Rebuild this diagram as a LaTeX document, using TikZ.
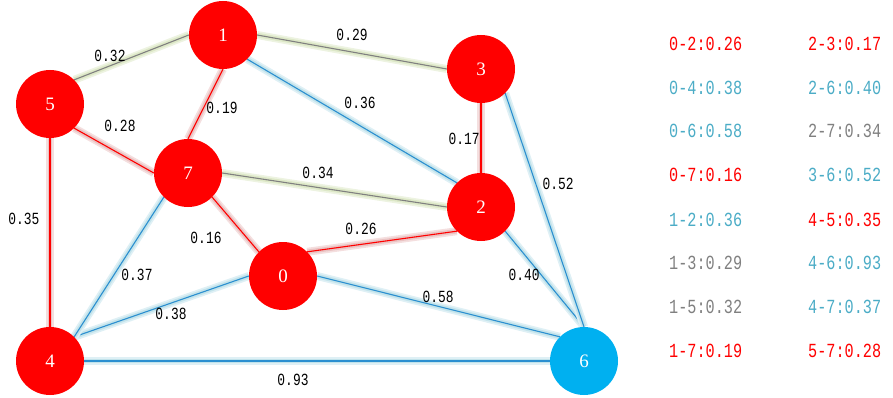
\documentclass[tikz,border=0pt]{standalone}
\usepackage{fontspec}
\setmainfont{Liberation Serif}
\newfontfamily\wfont[FakeStretch=0.76]{Liberation Mono}
\usetikzlibrary{backgrounds}

\definecolor{vred}{HTML}{FF0000}
\definecolor{vblue}{HTML}{00B0F0}
\definecolor{eblue}{HTML}{2B8FD0}
\definecolor{gblue}{HTML}{B7DEE8}
\definecolor{gred}{HTML}{E6B9B8}
\definecolor{ggreen}{HTML}{D7E4BD}
\definecolor{egray}{HTML}{808080}
\definecolor{lblue}{HTML}{4BACC6}

\tikzset{
  vtx/.style={circle, fill=vred, minimum size=68pt, inner sep=0pt, text=white,
    font=\fontsize{19}{19}\selectfont},
  redge/.style={draw=vred, line width=1.1pt,
    preaction={draw=gred!45, line width=8pt}, preaction={draw=gred!85, line width=4.5pt}},
  bedge/.style={draw=eblue, line width=1.1pt,
    preaction={draw=gblue!45, line width=8pt}, preaction={draw=gblue!85, line width=4.5pt}},
  gedge/.style={draw=egray, line width=1.1pt,
    preaction={draw=ggreen!45, line width=8pt}, preaction={draw=ggreen!85, line width=4.5pt}},
  wlbl/.style={font=\fontsize{17}{17}\selectfont\wfont, inner sep=1pt},
  leg/.style={anchor=west, font=\fontsize{20}{20}\selectfont\wfont, inner sep=0pt}
}

\begin{document}
\begin{tikzpicture}[x=1pt, y=-1pt]
    \useasboundingbox (0,0) rectangle (893,398);

    % Vertices
    \node[vtx] (v1) at (223,35) {1};
    \node[vtx] (v3) at (481,69) {3};
    \node[vtx] (v5) at (50,104) {5};
    \node[vtx] (v7) at (188,173) {7};
    \node[vtx] (v2) at (481,207) {2};
    \node[vtx] (v0) at (283,276) {0};
    \node[vtx] (v4) at (50,361) {4};
    \node[vtx, fill=vblue] (v6) at (584,361) {6};

    % Edges
    \begin{scope}[on background layer]
        \draw[redge] (v0.north east) -- (v2.south west);
        \draw[redge] (v0.north west) -- (v7.south east);
        \draw[redge] (v1.south) -- (v7.north);
        \draw[redge] (v2.north) -- (v3.south);
        \draw[redge, line width=1.6pt] (v4.north) -- (v5.south);
        \draw[redge] (v5.south east) -- (v7.west);
        \draw[bedge] (v0.west) -- (v4.north east);
        \draw[bedge] (v0.east) -- (v6.north west);
        \draw[bedge] (v1.south east) -- (v2.north west);
        \draw[bedge] (v2.south east) -- (v6.north);
        \draw[bedge] (v3.south east) -- (v6.north);
        \draw[bedge] (v4.east) -- (v6.west);
        \draw[bedge] (v4.north east) -- (v7.south west);
        \draw[gedge] (v1.east) -- (v3.west);
        \draw[gedge] (v1.west) -- (v5.north east);
        \draw[gedge] (v2.west) -- (v7.east);
    \end{scope}

    % Weights
    \node[wlbl] (w15) at (110,56) {0.32};
    \node[wlbl] (w13) at (352,35) {0.29};
    \node[wlbl] (w17) at (222,108) {0.19};
    \node[wlbl] (w57) at (120,126) {0.28};
    \node[wlbl] (w12) at (360,103) {0.36};
    \node[wlbl] (w23) at (464,139) {0.17};
    \node[wlbl] (w27) at (318,173) {0.34};
    \node[wlbl] (w45) at (24,219) {0.35};
    \node[wlbl] (w07) at (206,238) {0.16};
    \node[wlbl] (w02) at (361,229) {0.26};
    \node[wlbl] (w36) at (558,184) {0.52};
    \node[wlbl] (w47) at (137,275) {0.37};
    \node[wlbl] (w04) at (171,314) {0.38};
    \node[wlbl] (w06) at (438,297) {0.58};
    \node[wlbl] (w26) at (524,275) {0.40};
    \node[wlbl] (w46) at (293,380) {0.93};

    % Edge list
    \node[leg, text=vred] (l02) at (669,44) {0-2:0.26};
    \node[leg, text=lblue] (l04) at (669,88) {0-4:0.38};
    \node[leg, text=lblue] (l06) at (669,131) {0-6:0.58};
    \node[leg, text=vred] (l07) at (669,175) {0-7:0.16};
    \node[leg, text=lblue] (l12) at (669,220) {1-2:0.36};
    \node[leg, text=egray] (l13) at (669,263) {1-3:0.29};
    \node[leg, text=egray] (l15) at (669,307) {1-5:0.32};
    \node[leg, text=vred] (l17) at (669,351) {1-7:0.19};
    \node[leg, text=vred] (l23) at (808,44) {2-3:0.17};
    \node[leg, text=lblue] (l26) at (808,88) {2-6:0.40};
    \node[leg, text=egray] (l27) at (808,131) {2-7:0.34};
    \node[leg, text=lblue] (l36) at (808,175) {3-6:0.52};
    \node[leg, text=vred] (l45) at (808,220) {4-5:0.35};
    \node[leg, text=lblue] (l46) at (808,263) {4-6:0.93};
    \node[leg, text=lblue] (l47) at (808,307) {4-7:0.37};
    \node[leg, text=vred] (l57) at (808,351) {5-7:0.28};
\end{tikzpicture}
\end{document}
